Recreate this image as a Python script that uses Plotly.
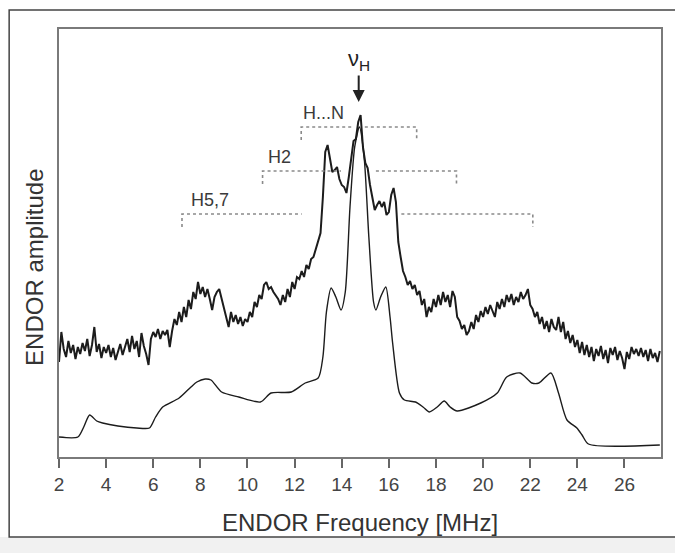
import plotly.graph_objects as go

# ---------------- data ----------------
# Experimental ENDOR spectrum, sampled every 0.1 MHz from 2.0 MHz (arbitrary amplitude units)
exp_start = 2.0
exp_step = 0.1
exp_amp = [
    95, 125, 108, 100, 116, 104, 112, 98, 110, 103,          # 2.0-2.9
    114, 106, 118, 101, 112, 130, 105, 113, 99, 110,         # 3.0-3.9
    104, 112, 100, 109, 97, 106, 113, 102, 110, 118,         # 4.0-4.9
    105, 121, 108, 116, 100, 124, 111, 103, 92, 118,         # 5.0-5.9
    125, 120, 128, 118, 126, 122, 127, 110, 126, 138,        # 6.0-6.9
    132, 145, 135, 150, 140, 157, 148, 165, 158, 175,        # 7.0-7.9
    163, 170, 160, 168, 158, 147, 160, 165, 168, 158,        # 8.0-8.9
    150, 138, 130, 145, 135, 142, 133, 140, 131, 138,        # 9.0-9.9
    135, 145, 140, 155, 150, 162, 158, 172, 175, 168,        # 10.0-10.9
    170, 165, 162, 158, 152, 162, 155, 168, 160, 175,        # 11.0-11.9
    168, 180, 178, 186, 180, 192, 188, 198, 200, 208,        # 12.0-12.9
    214, 224, 260, 305, 312, 300, 285, 287, 290, 278,        # 13.0-13.9
    272, 270, 264, 280, 298, 316, 318, 335, 342, 310,        # 14.0-14.9
    294, 289, 272, 260, 247, 252, 256, 250, 255, 242,        # 15.0-15.9
    245, 262, 269, 255, 215, 200, 186, 180, 172, 176,        # 16.0-16.9
    168, 172, 162, 166, 152, 158, 140, 150, 145, 158,        # 17.0-17.9
    150, 162, 152, 165, 155, 162, 150, 166, 160, 140,        # 18.0-18.9
    136, 128, 132, 122, 126, 135, 128, 142, 135, 146,        # 19.0-19.9
    140, 150, 143, 152, 145, 140, 155, 148, 158, 150,        # 20.0-20.9
    162, 155, 163, 152, 160, 155, 165, 158, 162, 168,        # 21.0-21.9
    152, 148, 140, 145, 133, 140, 128, 136, 125, 138,        # 22.0-22.9
    130, 127, 140, 125, 135, 118, 126, 114, 122, 110,        # 23.0-23.9
    117, 104, 115, 102, 112, 100, 110, 96, 108, 101,         # 24.0-24.9
    111, 98, 107, 94, 109, 102, 110, 97, 106, 99,            # 25.0-25.9
    88, 105, 98, 110, 103, 108, 101, 109, 100, 107,          # 26.0-26.9
    96, 108, 99, 104, 95, 106,                               # 27.0-27.5
]

# Simulated spectrum (smooth)
sim_freq = [2.0, 2.8, 3.05, 3.3, 3.6, 3.85, 4.5, 5.3, 5.84, 6.1, 6.4, 7.1, 7.6, 7.85,
            8.2, 8.45, 8.9, 9.63, 10.55, 11.0, 11.86, 12.45, 13.0, 13.2, 13.35, 13.55,
            13.75, 13.97, 14.15, 14.35, 14.55, 14.75, 14.95, 15.15, 15.35, 15.45, 15.65,
            15.87, 16.05, 16.16, 16.45, 16.66, 17.13, 17.45, 17.72, 18.05, 18.35, 18.6,
            18.9, 19.9, 20.6, 21.0, 21.57, 22.07, 22.37, 22.88, 23.2, 23.56, 23.98,
            24.2, 24.47, 27.5]
sim_amp = [20, 20, 30, 42, 36, 34, 31, 29, 29, 40, 50, 59, 70, 75,
           78, 77, 65, 60, 55, 64, 65, 74, 79, 100, 145, 169,
           160, 147, 165, 250, 310, 330, 300, 220, 155, 147, 160,
           170, 140, 114, 64, 57, 55, 50, 45, 50, 56, 50,
           46, 54, 64, 80, 84, 74, 74, 84, 64, 37, 29,
           22, 13, 12]

# Hyperfine coupling brackets
bracket_labels = ["H...N", "H2", "H5,7"]
bracket_level = [330, 286, 243]
bracket_outer_left = [12.28, 10.64, 7.22]
bracket_inner_left = [14.43, 13.97, 12.30]
bracket_inner_right = [14.98, 15.45, 16.53]
bracket_outer_right = [17.18, 18.87, 22.11]
bracket_label_x = [12.25, 10.80, 7.52]

nu_H = 14.72
x_ticks = [2, 4, 6, 8, 10, 12, 14, 16, 18, 20, 22, 24, 26]

FONT = "Liberation Sans, Arial, sans-serif"

# ---------------- figure ----------------
fig = go.Figure()

fig.add_trace(go.Scatter(x0=exp_start, dx=exp_step, y=exp_amp, mode="lines",
                         line=dict(color="#1c1c1c", width=2), hoverinfo="skip",
                         showlegend=False))
fig.add_trace(go.Scatter(x=sim_freq, y=sim_amp, mode="lines",
                         line=dict(color="#1c1c1c", width=1.4, shape="spline", smoothing=0.7),
                         hoverinfo="skip", showlegend=False))

for i, lab in enumerate(bracket_labels):
    lv = bracket_level[i]
    fig.add_trace(go.Scatter(
        x=[bracket_outer_left[i], bracket_outer_left[i], bracket_inner_left[i], None,
           bracket_inner_right[i], bracket_outer_right[i], bracket_outer_right[i]],
        y=[lv - 13, lv, lv, None, lv, lv, lv - 13],
        mode="lines", line=dict(color="#8a8a8a", width=1.6, dash="dot"),
        hoverinfo="skip", showlegend=False))
    fig.add_annotation(x=bracket_label_x[i], y=lv + 14, text=lab, showarrow=False,
                       xanchor="left", yanchor="middle",
                       font=dict(family=FONT, size=18, color="#3a3a3a"))

# nu_H label with arrow pointing at the free-proton frequency
fig.add_annotation(x=nu_H, y=355, ax=nu_H, ay=397, axref="x", ayref="y",
                   text="ν<sub>H</sub>", showarrow=True, arrowhead=2, arrowsize=1.2,
                   arrowwidth=2, arrowcolor="#222", standoff=0, startstandoff=0,
                   font=dict(family=FONT, size=22, color="#222"))

# axis titles
fig.add_annotation(xref="paper", yref="paper", x=0.5, y=-0.152,
                   text="ENDOR Frequency [MHz]", showarrow=False,
                   xanchor="center", yanchor="middle",
                   font=dict(family=FONT, size=24, color="#333"))
fig.add_annotation(xref="paper", yref="paper", x=-0.04, y=0.444,
                   text="ENDOR amplitude", showarrow=False, textangle=-90,
                   xanchor="center", yanchor="middle",
                   font=dict(family=FONT, size=24, color="#333"))

# outer frame and grey strip at bottom
fig.add_shape(type="rect", xref="paper", yref="paper", x0=-0.2, x1=1.2, y0=-0.5, y1=-0.187,
              fillcolor="#f1f1f1", line=dict(width=0), layer="below")
fig.add_shape(type="rect", xref="paper", yref="paper", x0=-0.0828, x1=1.03, y0=-0.187, y1=1.0444,
              fillcolor="rgba(0,0,0,0)", line=dict(color="#444", width=1.5))

fig.update_xaxes(range=[2, 27.55], tickmode="array", tickvals=x_ticks,
                 ticks="outside", ticklen=9, tickwidth=1.5, tickcolor="#666",
                 showline=True, linecolor="#7a7a7a", linewidth=2, mirror=True,
                 showgrid=False, zeroline=False,
                 tickfont=dict(family=FONT, size=19, color="#444"))
fig.update_yaxes(range=[0, 428], showticklabels=False, ticks="",
                 showline=True, linecolor="#7a7a7a", linewidth=2, mirror=True,
                 showgrid=False, zeroline=False)

fig.update_layout(width=675, height=553,
                  margin=dict(l=59, r=12, t=29, b=96),
                  paper_bgcolor="white", plot_bgcolor="white")

fig.write_html("out.html")
